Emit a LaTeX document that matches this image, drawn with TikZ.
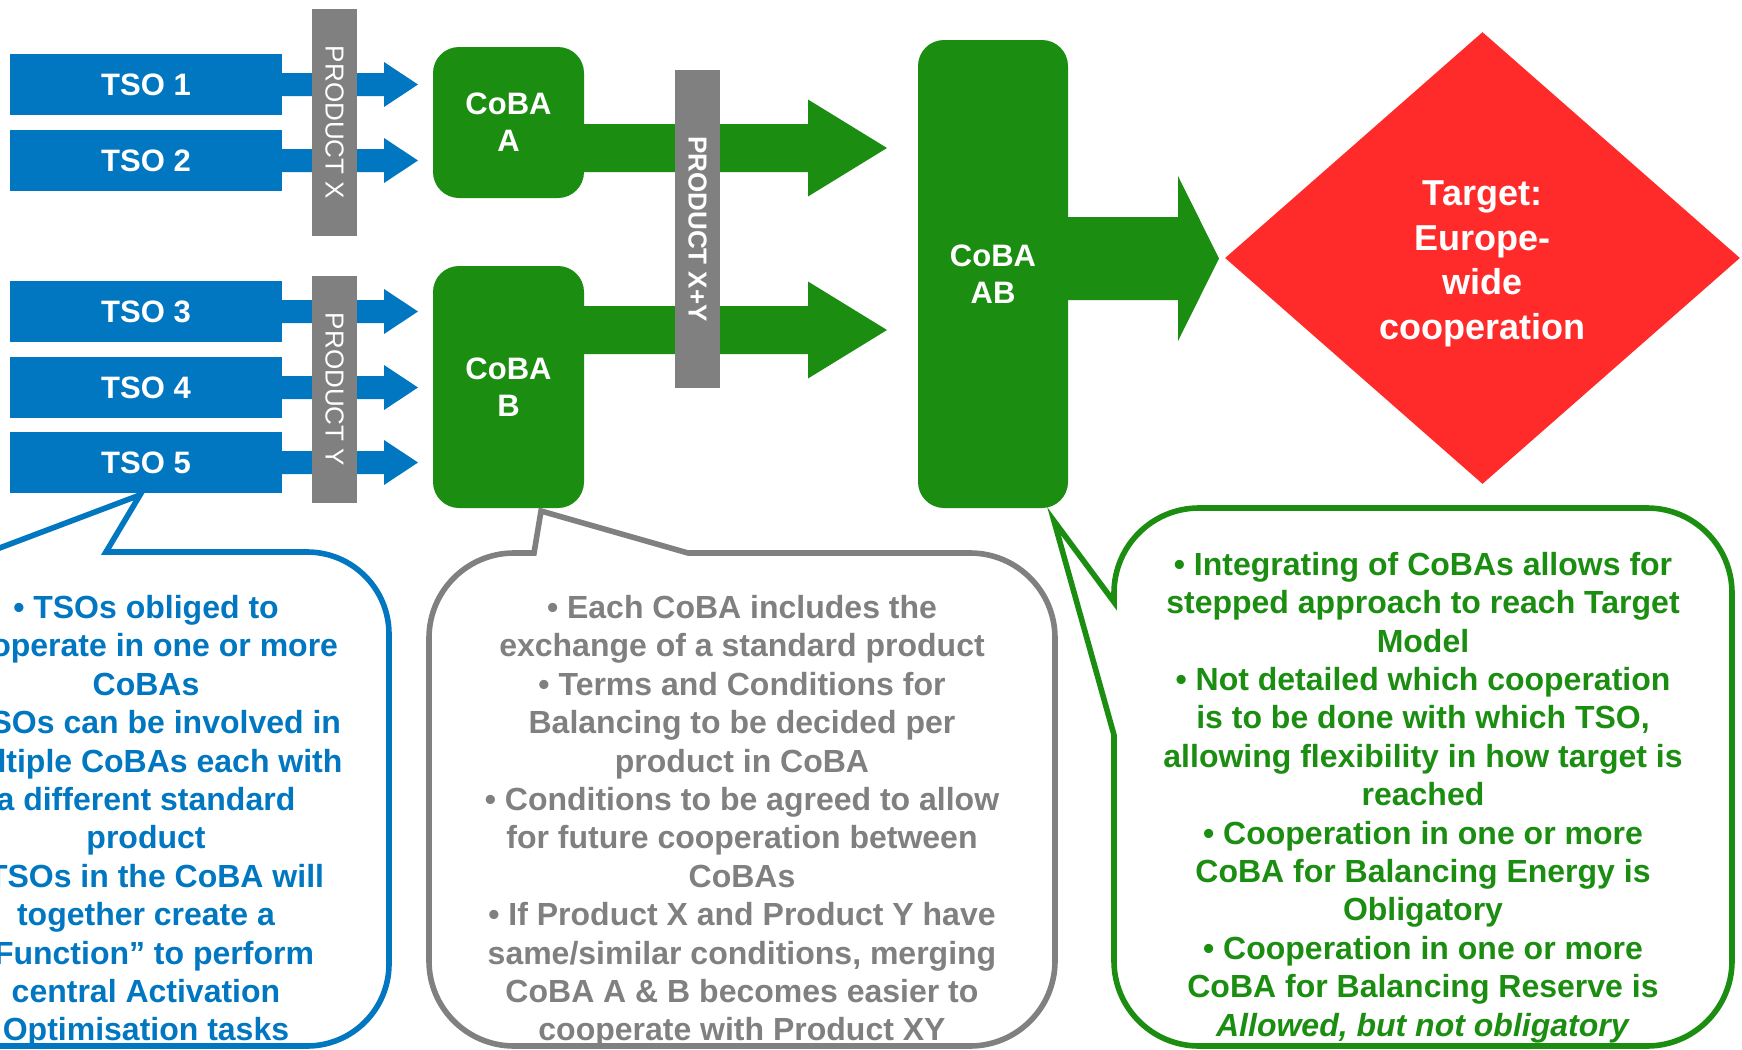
\documentclass[tikz,border=0pt]{standalone}
\usepackage{fontspec}
\setmainfont{Liberation Sans}
\usetikzlibrary{shapes.geometric,calc}

\definecolor{tsoblue}{RGB}{0,119,192}
\definecolor{cobagreen}{RGB}{27,142,18}
\definecolor{targetred}{RGB}{255,42,42}
\definecolor{bargray}{RGB}{128,128,128}

% one drawing unit (a "pixel") in TeX points
\def\pxu{0.5pt}

% block arrow: #1 start, #2 shaft length, #3 shaft half width,
% #4 head length, #5 head half width, #6 colour
\newcommand\blockarrow[6]{%
  \fill[#6] (#1) ++(0,-#3) -- ++(#2,0) -- ++(0,{#3-#5}) -- ++(#4,#5)
    -- ++(-#4,#5) -- ++(0,{#3-#5}) -- ++(-#2,0) -- cycle;}

\begin{document}
\begin{tikzpicture}[x=0.5pt,y=-0.5pt,
  tsobox/.style={rectangle, fill=tsoblue, text=white,
    font=\bfseries\fontsize{15.5}{18.5}\selectfont,
    minimum width=272*\pxu, minimum height=61*\pxu, inner sep=0, outer sep=0},
  productbar/.style={rectangle, fill=bargray, text=white, rotate=-90,
    minimum height=45*\pxu, inner sep=0, outer sep=0,
    font=\fontsize{13}{15}\selectfont},
  cobabox/.style={rectangle, rounded corners=13pt, fill=cobagreen, text=white,
    align=center, font=\bfseries\fontsize{15.5}{18.5}\selectfont,
    inner sep=0, outer sep=0},
  note/.style={align=center, font=\bfseries\fontsize{16}{19.2}\selectfont},
  calloutline/.style={line width=2.8pt, fill=white, line join=miter}
]
\useasboundingbox (0,0) rectangle (1742,1050);
\clip (0,0) rectangle (1742,1050);
\fill[white] (0,0) rectangle (1742,1050);

% TSOs
\node[tsobox] (tso1) at (146,84.5)  {TSO 1};
\node[tsobox] (tso2) at (146,160.5) {TSO 2};
\node[tsobox] (tso3) at (146,311.5) {TSO 3};
\node[tsobox] (tso4) at (146,387.5) {TSO 4};
\node[tsobox] (tso5) at (146,462.5) {TSO 5};

% CoBAs
\node[cobabox, minimum width=151*\pxu, minimum height=151*\pxu] (cobaA) at (508.5,122.5) {CoBA\\A};
\node[cobabox, minimum width=151*\pxu, minimum height=242*\pxu] (cobaB) at (508.5,387) {CoBA\\B};
\node[cobabox, minimum width=150*\pxu, minimum height=468*\pxu] (cobaAB) at (993,274) {CoBA\\AB};

% TSO -> CoBA arrows
\foreach \t in {tso1,tso2,tso3,tso4,tso5}
  {\blockarrow{\t.east}{102}{11.5}{34}{22.5}{tsoblue}}

% product bars over the TSO arrows
\node[productbar, minimum width=227*\pxu] (prodX) at (334.5,122.5) {PRODUCT X};
\node[productbar, minimum width=227*\pxu] (prodY) at (334.5,389.5) {PRODUCT Y};

% CoBA A / B -> CoBA AB arrows
\blockarrow{$(cobaA.east)+(0,25.5)$}{224}{24}{79}{48.5}{cobagreen}
\blockarrow{$(cobaB.east)+(0,-57)$}{224}{24}{79}{48.5}{cobagreen}
\node[productbar, minimum width=318*\pxu, font=\bfseries\fontsize{13}{15}\selectfont]
  (prodXY) at (697.5,229) {PRODUCT X+Y};

% CoBA AB -> target
\blockarrow{$(cobaAB.east)+(0,-15.5)$}{110}{41.5}{41}{82.5}{cobagreen}
\node[diamond, fill=targetred, minimum width=515*\pxu, minimum height=452*\pxu,
  inner sep=0, text=white, align=center,
  font=\bfseries\fontsize{18}{22.25}\selectfont] (target) at (1482.5,258)
  {\rule{0pt}{18pt}Target:\\Europe-\\wide\\cooperation};

% callout for the TSOs
\draw[calloutline, draw=tsoblue] (106,552) -- (307,552)
  arc[start angle=270, end angle=360, radius=82] -- (389,964)
  arc[start angle=0, end angle=90, radius=82] -- (-15,1046)
  arc[start angle=90, end angle=180, radius=82] -- (-97,634)
  arc[start angle=180, end angle=270, radius=82] -- (-11,552)
  -- (140,495) -- cycle;
\node[note, text=tsoblue] (tsonote) at (146,821.5)
  {• TSOs obliged to\\
   cooperate in one or more\\
   CoBAs\\
   • TSOs can be involved in\\
   multiple CoBAs each with\\
   a different standard\\
   product\\
   • TSOs in the CoBA will\\
   together create a\\
   “Function” to perform\\
   central Activation\\
   Optimisation tasks};

% callout for the CoBAs
\draw[calloutline, draw=bargray] (688,553) -- (970,553)
  arc[start angle=270, end angle=360, radius=85] -- (1055,961)
  arc[start angle=0, end angle=90, radius=85] -- (514,1046)
  arc[start angle=90, end angle=180, radius=85] -- (429,638)
  arc[start angle=180, end angle=270, radius=85] -- (534,553)
  -- (541,511) -- cycle;
\node[note, text=bargray] (cobanote) at (742,821.5)
  {• Each CoBA includes the\\
   exchange of a standard product\\
   • Terms and Conditions for\\
   Balancing to be decided per\\
   product in CoBA\\
   • Conditions to be agreed to allow\\
   for future cooperation between\\
   CoBAs\\
   • If Product X and Product Y have\\
   same/similar conditions, merging\\
   CoBA A \& B becomes easier to\\
   cooperate with Product XY};

% callout for the integration step
\draw[calloutline, draw=cobagreen] (1114,602) -- (1114,593)
  arc[start angle=180, end angle=270, radius=85] -- (1647,508)
  arc[start angle=270, end angle=360, radius=85] -- (1732,961)
  arc[start angle=0, end angle=90, radius=85] -- (1199,1046)
  arc[start angle=90, end angle=180, radius=85] -- (1114,735)
  -- (1054,521) -- cycle;
\node[note, text=cobagreen] (abnote) at (1423,797.5)
  {• Integrating of CoBAs allows for\\
   stepped approach to reach Target\\
   Model\\
   • Not detailed which cooperation\\
   is to be done with which TSO,\\
   allowing flexibility in how target is\\
   reached\\
   • Cooperation in one or more\\
   CoBA for Balancing Energy is\\
   Obligatory\\
   • Cooperation in one or more\\
   CoBA for Balancing Reserve is\\
   \textit{Allowed, but not obligatory}};
\end{tikzpicture}
\end{document}
